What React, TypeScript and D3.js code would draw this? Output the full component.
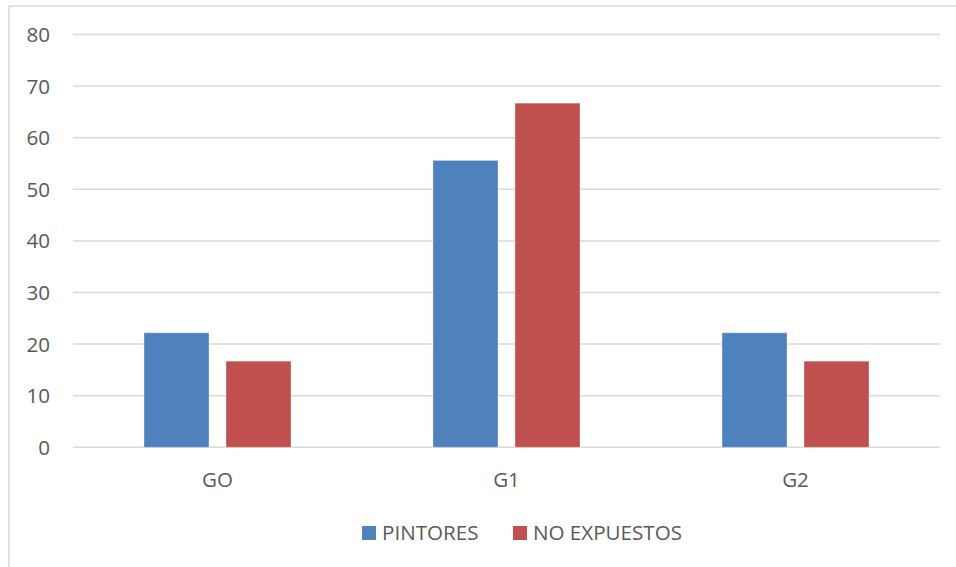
import React from "react";
import * as d3 from "d3";

const categories = ["GO", "G1", "G2"];
const seriesNames = ["PINTORES", "NO EXPUESTOS"];
const pintores = [22.2, 55.6, 22.2];
const noExpuestos = [16.7, 66.7, 16.7];
const yTicks = [0, 10, 20, 30, 40, 50, 60, 70, 80];
const colors = ["#4F81BD", "#C0504D"];

const W = 956;
const H = 567;
const left = 73;
const right = 940;
const top = 34.5;
const bottom = 447.3;
const font = "'Open Sans', sans-serif";
const textColor = "#595959";
const fs = 20.6;

export default function App() {
  const x = d3.scaleBand<string>().domain(categories).range([left, right]).paddingInner(0).paddingOuter(0);
  const bw = x.bandwidth();
  const barW = 65;
  const gap = 17;
  const y = d3.scaleLinear().domain([0, 80]).range([bottom, top]);
  const series = [pintores, noExpuestos];

  return (
    <svg width={W} height={H} style={{ position: "absolute", left: 0, top: 0 }} fontFamily={font}>
      <rect x={0} y={0} width={W} height={H} fill="#fff" />
      <rect x={9} y={6} width={W + 20} height={H + 20} fill="none" stroke="#d9d9d9" strokeWidth={1.5} />
      {yTicks.map((t) => (
        <g key={t}>
          <line x1={left} x2={right} y1={y(t)} y2={y(t)} stroke="#d9d9d9" strokeWidth={1.5} />
          <text x={50} y={y(t)} dy="0.36em" textAnchor="end" fontSize={fs} fill={textColor}>
            {t}
          </text>
        </g>
      ))}
      {categories.map((c, i) => {
        const cx = (x(c) as number) + bw / 2;
        const groupStart = cx - (2 * barW + gap) / 2;
        return (
          <g key={c}>
            {series.map((s, j) => (
              <rect
                key={j}
                x={groupStart + j * (barW + gap)}
                y={y(s[i])}
                width={barW}
                height={y(0) - y(s[i])}
                fill={colors[j]}
                stroke="#ffffff"
                strokeOpacity={0.35}
                strokeWidth={1}
              />
            ))}
            <text x={cx} y={487} textAnchor="middle" fontSize={fs} fill={textColor}>
              {c}
            </text>
          </g>
        );
      })}
      <g>
        <rect x={362} y={526} width={14} height={14} fill={colors[0]} />
        <text x={382} y={540} fontSize={fs} fill={textColor}>{seriesNames[0]}</text>
        <rect x={513} y={526} width={14} height={14} fill={colors[1]} />
        <text x={533} y={540} fontSize={fs} fill={textColor}>{seriesNames[1]}</text>
      </g>
    </svg>
  );
}
